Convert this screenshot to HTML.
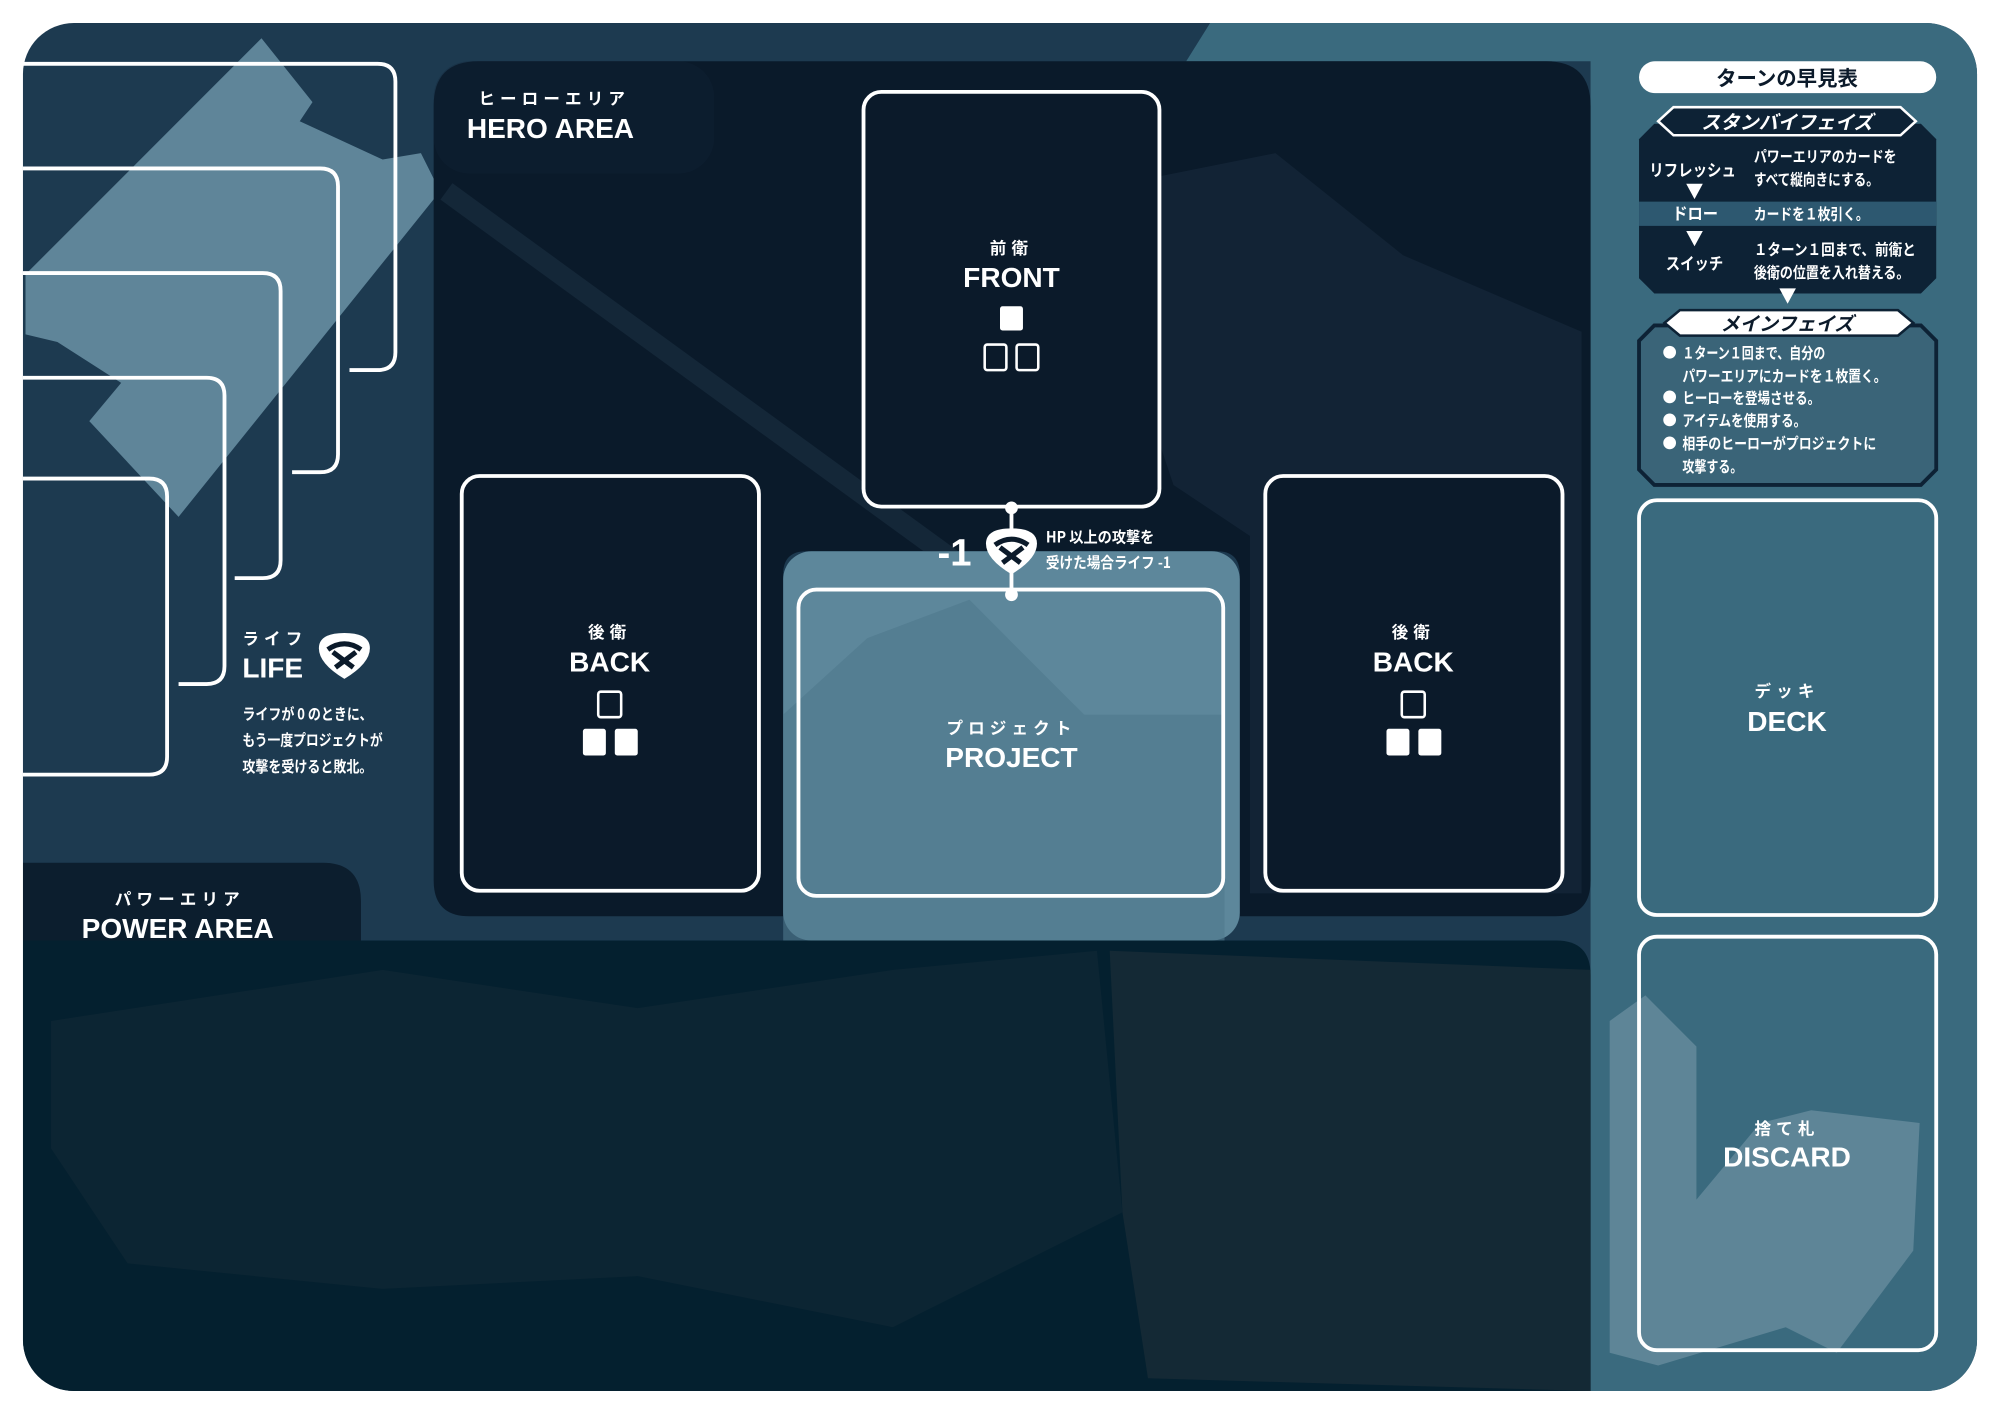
<!DOCTYPE html>
<html><head><meta charset="utf-8"><style>
html,body{margin:0;padding:0;background:#fff;width:2000px;height:1414px;overflow:hidden}
svg{display:block}
text{font-family:"Liberation Sans","Noto Sans CJK JP",sans-serif;fill:#fff;font-weight:bold}
.j{font-family:"Noto Sans CJK JP","Liberation Sans",sans-serif}
</style></head><body>
<svg width="2000" height="1414" viewBox="0 0 1568 1108" preserveAspectRatio="none" xmlns="http://www.w3.org/2000/svg">
<defs>
<clipPath id="board"><rect x="18" y="18" width="1532" height="1072" rx="40"/></clipPath>
<g id="icon">
<path d="M-20,-6 Q-20,-18 0,-18 Q20,-18 20,-6 Q20,6 0,18 Q-20,6 -20,-6Z" fill="#fff"/>
<path d="M-13,-5 Q0,-14 13,-5" stroke="#0b1a2a" stroke-width="4" fill="none"/>
<path d="M-9,-3 L7,9 M9,-3 L-7,9" stroke="#0b1a2a" stroke-width="4"/>
</g>
</defs>
<g clip-path="url(#board)">
<rect x="0" y="0" width="1568" height="1108" fill="#1d3a50"/>
<rect x="1247" y="0" width="330" height="1108" fill="#3a6a7e"/>
<path d="M960,0 H1260 V48 H930Z" fill="#3a6a7e"/>
<path d="M1262,800 L1290,780 L1330,820 L1330,940 L1380,880 L1420,870 L1505,880 L1500,980 L1440,1060 L1400,1040 L1300,1070 L1262,1060Z" fill="#5e8597"/>
<path d="M20,215 L205,30 L245,80 L235,95 L300,125 L330,120 L345,150 L140,405 L70,330 L95,300 L45,268 L20,262Z" fill="#5f8599"/>
<path d="M375,48 H1212 Q1247,48 1247,83 V690 Q1247,718 1219,718 H972 V450 Q972,432 954,432 H632 Q614,432 614,450 V718 H368 Q340,718 340,690 V83 Q340,48 375,48Z" fill="#0a1a2a"/>
<path d="M900,140 L1000,120 L1100,200 L1240,260 L1240,700 L980,700 L980,420 L920,380 L880,260Z" fill="#132536" opacity="0.9"/>
<path d="M350,150 L790,470" stroke="#142738" stroke-width="16"/>
<rect x="614" y="432" width="358" height="305" rx="22" fill="#5d879b"/>
<path d="M614,560 L680,500 L760,470 L850,560 L960,560 L960,737 L614,737Z" fill="#4f788c" opacity="0.6"/>
<path d="M18,737 H1220 Q1247,737 1247,764 V1108 H18Z" fill="#04202f"/>
<path d="M870,745 L1247,760 L1247,1090 L900,1080 L880,950Z" fill="#142935"/>
<path d="M40,800 L300,760 L500,790 L700,760 L860,745 L880,950 L700,1040 L500,1000 L300,1010 L100,990 L40,900Z" fill="#0c2533"/>
<path d="M18,676 H253 Q283,676 283,706 V737 H18Z" fill="#0c1e2e"/>
<rect x="340" y="48" width="220" height="88" rx="28" fill="#132638" opacity="0.3"/>
</g>
<g fill="none" stroke="#fff" stroke-width="3">
<path d="M18,50 H296 Q310,50 310,64 V276 Q310,290 296,290 H274"/>
<path d="M18,132 H251 Q265,132 265,146 V356 Q265,370 251,370 H229"/>
<path d="M18,214 H206 Q220,214 220,228 V439 Q220,453 206,453 H184"/>
<path d="M18,296 H162 Q176,296 176,310 V522 Q176,536 162,536 H140"/>
<path d="M18,375 H117 Q131,375 131,389 V593 Q131,607 117,607 H18"/>
</g>
<g stroke="#fff" stroke-width="3">
<rect x="677" y="72" width="232" height="325" rx="14" fill="#0b1a2a"/>
<rect x="362" y="373" width="233" height="325" rx="14" fill="#0b1a2a"/>
<rect x="992" y="373" width="233" height="325" rx="14" fill="#0b1a2a"/>
<rect x="626" y="462" width="333" height="240" rx="14" fill="none"/>
<rect x="1285" y="392" width="233" height="325" rx="14" fill="none"/>
<rect x="1285" y="734" width="233" height="324" rx="14" fill="none"/>
</g>
<rect x="784" y="240" width="18" height="19" rx="2" fill="#fff"/>
<g fill="none" stroke="#fff" stroke-width="2"><rect x="772" y="270" width="17" height="20" rx="2"/><rect x="797" y="270" width="17" height="20" rx="2"/>
<rect x="469" y="542" width="18" height="20" rx="2"/><rect x="1099" y="542" width="18" height="20" rx="2"/></g>
<g fill="#fff"><rect x="457" y="571" width="18" height="21" rx="2"/><rect x="482" y="571" width="18" height="21" rx="2"/>
<rect x="1087" y="571" width="18" height="21" rx="2"/><rect x="1112" y="571" width="18" height="21" rx="2"/></g>
<g text-anchor="middle">
<text class="j" x="793" y="199" font-size="13" letter-spacing="4">前衛</text>
<text x="793" y="225" font-size="22">FRONT</text>
<text class="j" x="478" y="500" font-size="13" letter-spacing="4">後衛</text>
<text x="478" y="526" font-size="22">BACK</text>
<text class="j" x="1108" y="500" font-size="13" letter-spacing="4">後衛</text>
<text x="1108" y="526" font-size="22">BACK</text>
<text class="j" x="793" y="575" font-size="13" letter-spacing="4">プロジェクト</text>
<text x="793" y="601" font-size="22">PROJECT</text>
<text class="j" x="1401" y="546" font-size="13" letter-spacing="4">デッキ</text>
<text x="1401" y="573" font-size="22">DECK</text>
<text class="j" x="1401" y="889" font-size="13" letter-spacing="4">捨て札</text>
<text x="1401" y="914" font-size="22">DISCARD</text>
</g>
<line x1="793" y1="397" x2="793" y2="466" stroke="#fff" stroke-width="3"/>
<circle cx="793" cy="398" r="5" fill="#fff"/><circle cx="793" cy="466" r="5" fill="#fff"/>
<use href="#icon" transform="translate(793,432)"/>
<text x="735" y="443" font-size="30">-1</text>
<g lengthAdjust="spacingAndGlyphs">
<text class="j" x="820" y="425" font-size="12" textLength="85" lengthAdjust="spacingAndGlyphs">HP 以上の攻撃を</text>
<text class="j" x="820" y="445" font-size="12" textLength="98" lengthAdjust="spacingAndGlyphs">受けた場合ライフ -1</text>
<text class="j" x="190" y="564" font-size="12" textLength="102" lengthAdjust="spacingAndGlyphs">ライフが 0 のときに、</text>
<text class="j" x="190" y="584" font-size="12" textLength="110" lengthAdjust="spacingAndGlyphs">もう一度プロジェクトが</text>
<text class="j" x="190" y="605" font-size="12" textLength="102" lengthAdjust="spacingAndGlyphs">攻撃を受けると敗北。</text>
</g>
<text class="j" x="190" y="505" font-size="13" letter-spacing="4">ライフ</text>
<text x="190" y="531" font-size="22">LIFE</text>
<use href="#icon" transform="translate(270,514)"/>
<text class="j" x="375" y="82" font-size="13" letter-spacing="4">ヒーローエリア</text>
<text x="366" y="108" font-size="22">HERO AREA</text>
<text class="j" x="90" y="709" font-size="13" letter-spacing="4">パワーエリア</text>
<text x="64" y="735" font-size="22">POWER AREA</text>
<rect x="1285" y="48" width="233" height="25" rx="12.5" fill="#fff"/>
<text class="j" x="1401" y="67" font-size="16" text-anchor="middle" style="fill:#0b1a2a">ターンの早見表</text>
<path d="M1297,97 H1506 L1518,109 V218 L1506,230 H1297 L1285,218 V109Z" fill="#0d2235"/>
<rect x="1285" y="158" width="233" height="19" fill="#2d5870"/>
<path d="M1312,84 H1490 L1502,95 L1490,106 H1312 L1300,95Z" fill="#0d2235" stroke="#fff" stroke-width="2"/>
<text class="j" x="1401" y="101" font-size="15" text-anchor="middle" font-style="italic">スタンバイフェイズ</text>
<text class="j" x="1293" y="138" font-size="13" textLength="68" lengthAdjust="spacingAndGlyphs">リフレッシュ</text>
<text class="j" x="1375" y="127" font-size="12" textLength="112" lengthAdjust="spacingAndGlyphs">パワーエリアのカードを</text>
<text class="j" x="1375" y="145" font-size="12" textLength="98" lengthAdjust="spacingAndGlyphs">すべて縦向きにする。</text>
<text class="j" x="1311" y="172" font-size="13" textLength="36" lengthAdjust="spacingAndGlyphs">ドロー</text>
<text class="j" x="1375" y="172" font-size="12" textLength="90" lengthAdjust="spacingAndGlyphs">カードを１枚引く。</text>
<text class="j" x="1306" y="211" font-size="13" textLength="45" lengthAdjust="spacingAndGlyphs">スイッチ</text>
<text class="j" x="1375" y="200" font-size="12" textLength="127" lengthAdjust="spacingAndGlyphs">１ターン１回まで、前衛と</text>
<text class="j" x="1375" y="218" font-size="12" textLength="122" lengthAdjust="spacingAndGlyphs">後衛の位置を入れ替える。</text>
<g fill="#fff"><path d="M1322,144 H1335 L1328.5,156Z"/><path d="M1322,181 H1335 L1328.5,193Z"/><path d="M1395,226 H1408 L1401.5,238Z"/></g>
<path d="M1297,255 H1506 L1518,267 V368 L1506,380 H1297 L1285,368 V267Z" fill="#3a6478" stroke="#0d2235" stroke-width="3"/>
<path d="M1317,243 H1488 L1500,253 L1488,263 H1317 L1305,253Z" fill="#fff" stroke="#0d2235" stroke-width="2"/>
<text class="j" x="1401" y="259" font-size="15" text-anchor="middle" font-style="italic" style="fill:#0b1a2a">メインフェイズ</text>
<g fill="#fff"><circle cx="1309" cy="276" r="5"/><circle cx="1309" cy="311" r="5"/><circle cx="1309" cy="329" r="5"/><circle cx="1309" cy="347" r="5"/></g>
<text class="j" x="1319" y="281" font-size="12" textLength="112" lengthAdjust="spacingAndGlyphs">１ターン１回まで、自分の</text>
<text class="j" x="1319" y="299" font-size="12" textLength="160" lengthAdjust="spacingAndGlyphs">パワーエリアにカードを１枚置く。</text>
<text class="j" x="1319" y="316" font-size="12" textLength="108" lengthAdjust="spacingAndGlyphs">ヒーローを登場させる。</text>
<text class="j" x="1319" y="334" font-size="12" textLength="97" lengthAdjust="spacingAndGlyphs">アイテムを使用する。</text>
<text class="j" x="1319" y="352" font-size="12" textLength="152" lengthAdjust="spacingAndGlyphs">相手のヒーローがプロジェクトに</text>
<text class="j" x="1319" y="370" font-size="12" textLength="47" lengthAdjust="spacingAndGlyphs">攻撃する。</text>
</svg>
</body></html>
